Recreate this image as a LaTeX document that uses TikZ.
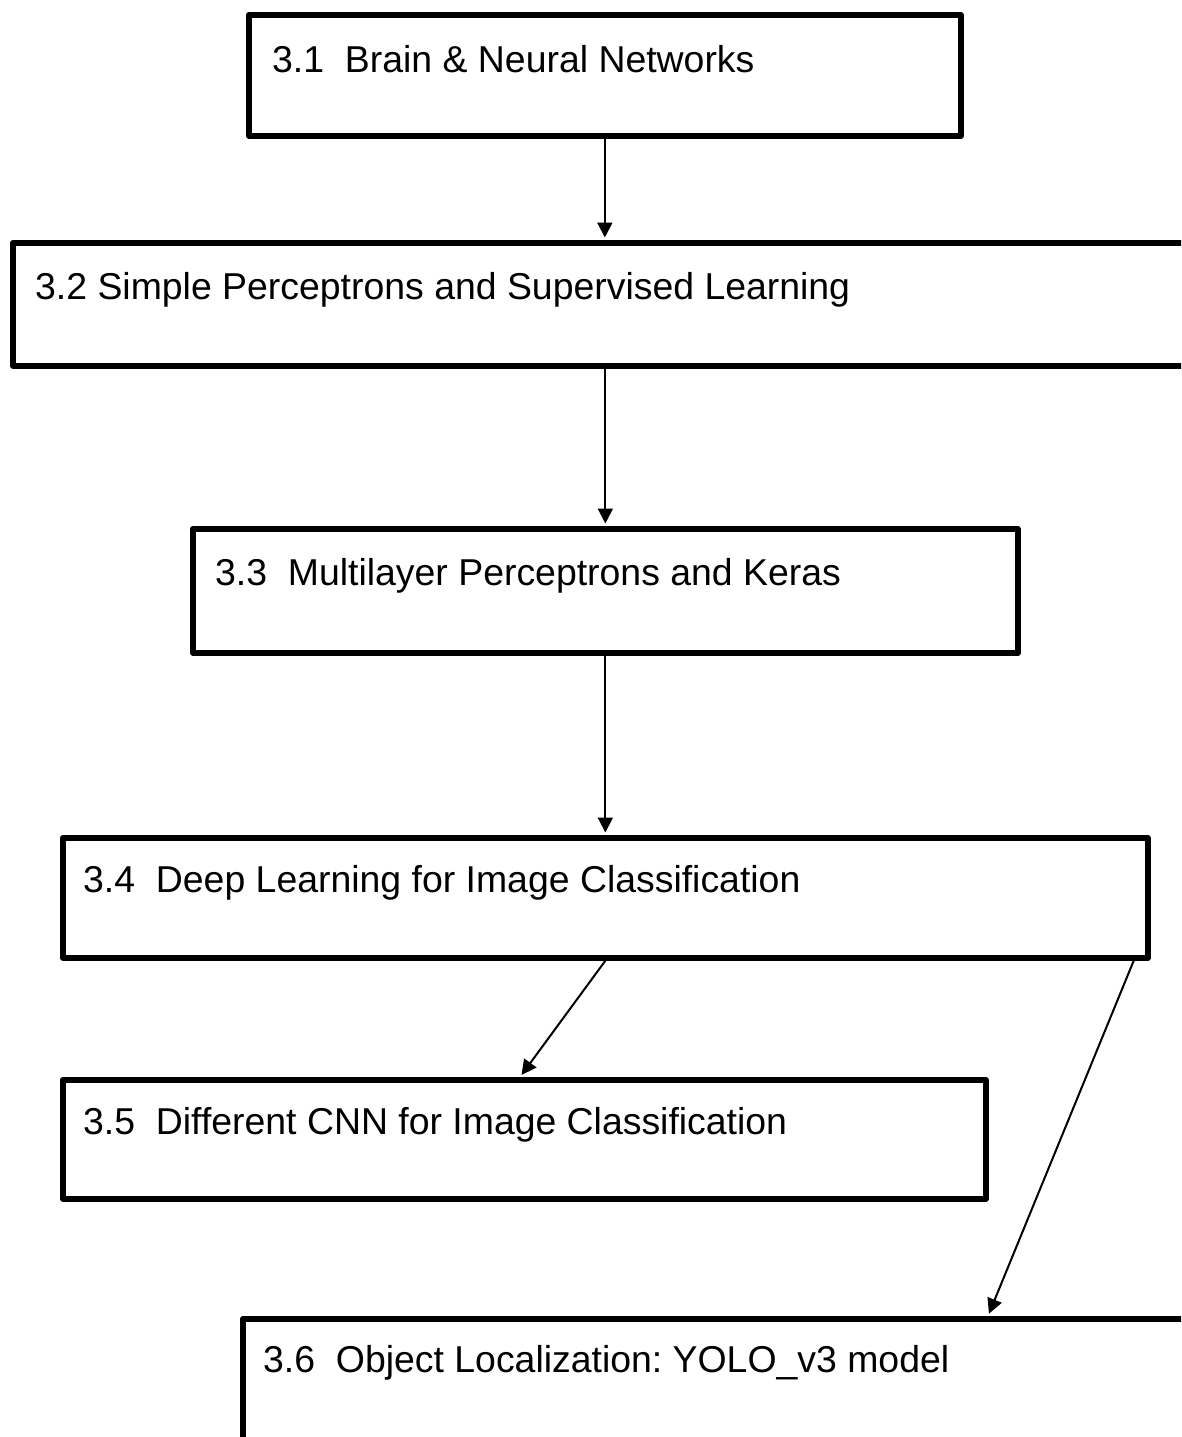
\documentclass[tikz,border=0pt]{standalone}
\usepackage{fontspec}
\setmainfont{Liberation Sans}
\usetikzlibrary{arrows.meta,calc}
\frenchspacing
\begin{document}
\begin{tikzpicture}[x=1pt,y=-1pt,
  box/.style={draw=black,line width=5.7pt,line join=round,rectangle,inner sep=0pt,anchor=north west},
  lbl/.style={anchor=base west,inner sep=0pt,font=\fontsize{37.4}{44}\selectfont},
  conn/.style={line width=2pt,shorten >=2.5pt,-{Triangle[length=15pt,width=15pt]}}]
\useasboundingbox (0,0) rectangle (1181,1437);
\clip (0,0) rectangle (1181,1437);
\node[box,minimum width=712pt,minimum height=121pt] (b1) at (246,12) {};
\node[box,minimum width=1200pt,minimum height=123pt] (b2) at (10,240) {};
\node[box,minimum width=825pt,minimum height=124pt] (b3) at (190,526) {};
\node[box,minimum width=1085pt,minimum height=120pt] (b4) at (60,835) {};
\node[box,minimum width=923pt,minimum height=119pt] (b5) at (60,1077) {};
\node[box,minimum width=1000pt,minimum height=200pt] (b6) at (240,1316) {};
\node[lbl] (t1) at (272,72) {3.1\ \ Brain \& Neural Networks};
\node[lbl] (t2) at (35,299) {3.2 Simple Perceptrons and Supervised Learning};
\node[lbl] (t3) at (215,585) {3.3\ \ Multilayer Perceptrons and Keras};
\node[lbl] (t4) at (83,892) {3.4\ \ Deep Learning for Image Classification};
\node[lbl] (t5) at (83,1134) {3.5\ \ Different CNN for Image Classification};
\node[lbl] (t6) at (263,1372) {3.6\ \ Object Localization: YOLO\_v3 model};
\draw[conn] (b1.south) -- (b1.south |- b2.north);
\draw[conn] (b3.north |- b2.south) -- (b3.north);
\draw[conn] (b3.south) -- (b3.south |- b4.north);
\draw[conn] (b4.south) -- ($(b5.north west)+(460,0)$);
\draw[conn] ($(b4.south east)+(-17,0)$) -- ($(b6.north west)+(748,0)$);
\end{tikzpicture}
\end{document}
